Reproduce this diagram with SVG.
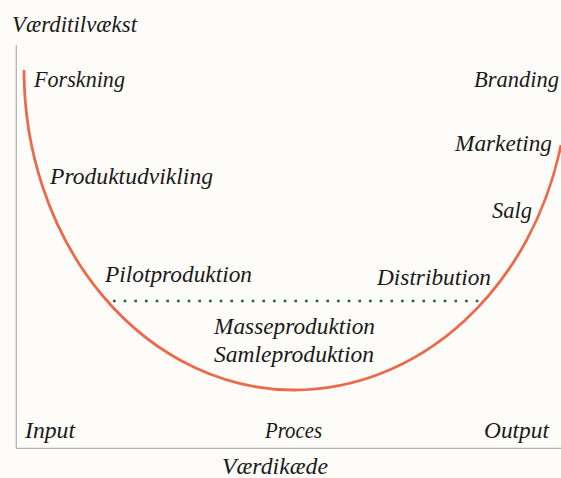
<svg xmlns="http://www.w3.org/2000/svg" width="561" height="478" viewBox="0 0 561 478">
  <style>
    .lbl { font-family: "Liberation Serif", serif; font-style: italic; font-size: 22.5px; fill: #1a1a1a; }
    .axis { stroke: #b3b3b3; stroke-width: 1.3; fill: none; }
    .curve { stroke: #ec6a4c; stroke-width: 2.8; fill: none; stroke-linecap: butt; }
    .dots { stroke: #17683f; stroke-width: 2.6; stroke-dasharray: 2.6 8.07; fill: none; }
  </style>
  <rect width="561" height="478" fill="#fdfcf9"/>
  <g id="axes">
    <path class="axis" d="M16.3 45 V448.3 H561"/>
    <text class="lbl" x="12" y="32" textLength="125" lengthAdjust="spacingAndGlyphs">Værditilvækst</text>
    <text class="lbl" x="222" y="474" textLength="106" lengthAdjust="spacingAndGlyphs">Værdikæde</text>
  </g>
  <g id="connectors">
    <path id="smile-curve" class="curve" d="M24 70 A270 320 0 0 0 294 390 A275 320 0 0 0 561 145"/>
    <line id="threshold" class="dots" x1="113" y1="301" x2="482" y2="301"/>
  </g>
  <g id="node-forskning"><text class="lbl" x="34" y="87" textLength="91" lengthAdjust="spacingAndGlyphs">Forskning</text></g>
  <g id="node-produktudvikling"><text class="lbl" x="50" y="184" textLength="163" lengthAdjust="spacingAndGlyphs">Produktudvikling</text></g>
  <g id="node-pilotproduktion"><text class="lbl" x="105" y="281.5" textLength="147" lengthAdjust="spacingAndGlyphs">Pilotproduktion</text></g>
  <g id="node-masseproduktion"><text class="lbl" x="214" y="334" textLength="161" lengthAdjust="spacingAndGlyphs">Masseproduktion</text></g>
  <g id="node-samleproduktion"><text class="lbl" x="214" y="361.5" textLength="160" lengthAdjust="spacingAndGlyphs">Samleproduktion</text></g>
  <g id="node-distribution"><text class="lbl" x="377" y="285" textLength="114" lengthAdjust="spacingAndGlyphs">Distribution</text></g>
  <g id="node-salg"><text class="lbl" x="492" y="218" textLength="40" lengthAdjust="spacingAndGlyphs">Salg</text></g>
  <g id="node-marketing"><text class="lbl" x="455" y="150.5" textLength="97" lengthAdjust="spacingAndGlyphs">Marketing</text></g>
  <g id="node-branding"><text class="lbl" x="474" y="86.5" textLength="85" lengthAdjust="spacingAndGlyphs">Branding</text></g>
  <g id="node-input"><text class="lbl" x="25" y="438.3" textLength="50" lengthAdjust="spacingAndGlyphs">Input</text></g>
  <g id="node-proces"><text class="lbl" x="265" y="438.3" textLength="57" lengthAdjust="spacingAndGlyphs">Proces</text></g>
  <g id="node-output"><text class="lbl" x="484" y="438.3" textLength="65" lengthAdjust="spacingAndGlyphs">Output</text></g>
</svg>
